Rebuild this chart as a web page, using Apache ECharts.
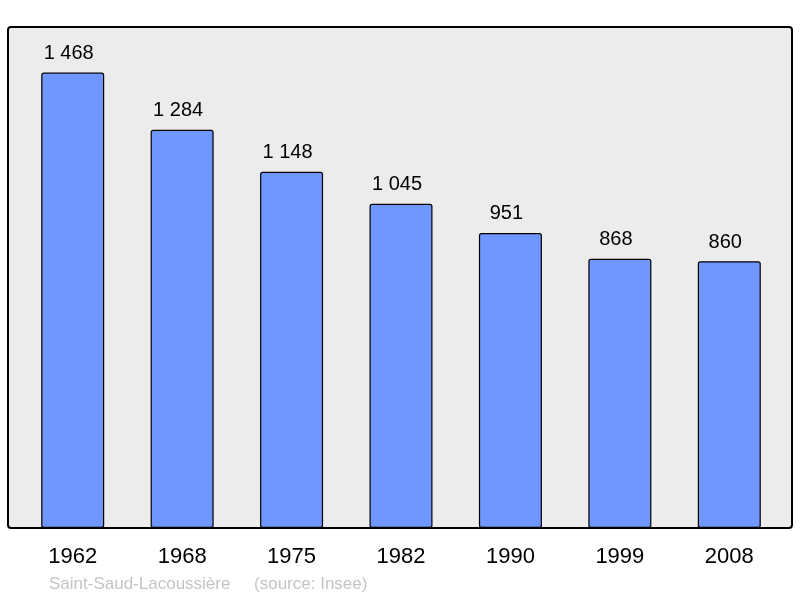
<!DOCTYPE html>
<html>
<head>
<meta charset="utf-8">
<script src="https://cdn.jsdelivr.net/npm/echarts@6/dist/echarts.min.js"></script>
<style>
  html, body { margin: 0; padding: 0; background: #fff; }
  #chart { width: 800px; height: 598px; }
</style>
</head>
<body>
<div id="chart"></div>
<script>
var years = ['1962', '1968', '1975', '1982', '1990', '1999', '2008'];
var population = [1468, 1284, 1148, 1045, 951, 868, 860];
var footerText = 'Saint-Saud-Lacoussière     (source: Insee)';

var chart = echarts.init(document.getElementById('chart'));

// values shown with a space as thousands separator
function frNumber(v) {
    return String(v).replace(/\B(?=(\d{3})+(?!\d))/g, ' ');
}

var option = {
    animation: false,
    backgroundColor: '#ffffff',
    textStyle: { fontFamily: 'Liberation Sans, Arial, sans-serif' },
    graphic: [{
        type: 'rect',
        z: -10,
        shape: { x: 8, y: 27, width: 784, height: 501, r: 3 },
        style: { fill: '#ececec', stroke: '#000', lineWidth: 2 }
    }, {
        type: 'text',
        left: 49,
        top: 576,
        style: {
            text: footerText,
            fill: '#c4c4c4',
            font: '17px "Liberation Sans", Arial, sans-serif'
        }
    }],
    grid: { left: 18, top: 27, width: 766, height: 501, containLabel: false },
    xAxis: {
        type: 'category',
        data: years,
        axisLine: { show: false },
        axisTick: { show: false },
        axisLabel: {
            color: '#000',
            fontSize: 22,
            margin: 18,
            fontFamily: 'Liberation Sans, Arial, sans-serif'
        }
    },
    yAxis: {
        type: 'value',
        min: 0,
        max: 1615,
        show: false,
        splitLine: { show: false }
    },
    series: [{
        type: 'bar',
        data: population,
        barWidth: 63,
        itemStyle: {
            color: '#7096ff',
            borderColor: '#000',
            borderWidth: 1.2,
            borderRadius: 2
        },
        label: {
            show: true,
            position: 'top',
            distance: 9,
            offset: [-4, 0],
            color: '#000',
            fontSize: 20,
            fontFamily: 'Liberation Sans, Arial, sans-serif',
            formatter: function (p) { return frNumber(p.value); }
        }
    }]
};

chart.setOption(option);
</script>
</body>
</html>
